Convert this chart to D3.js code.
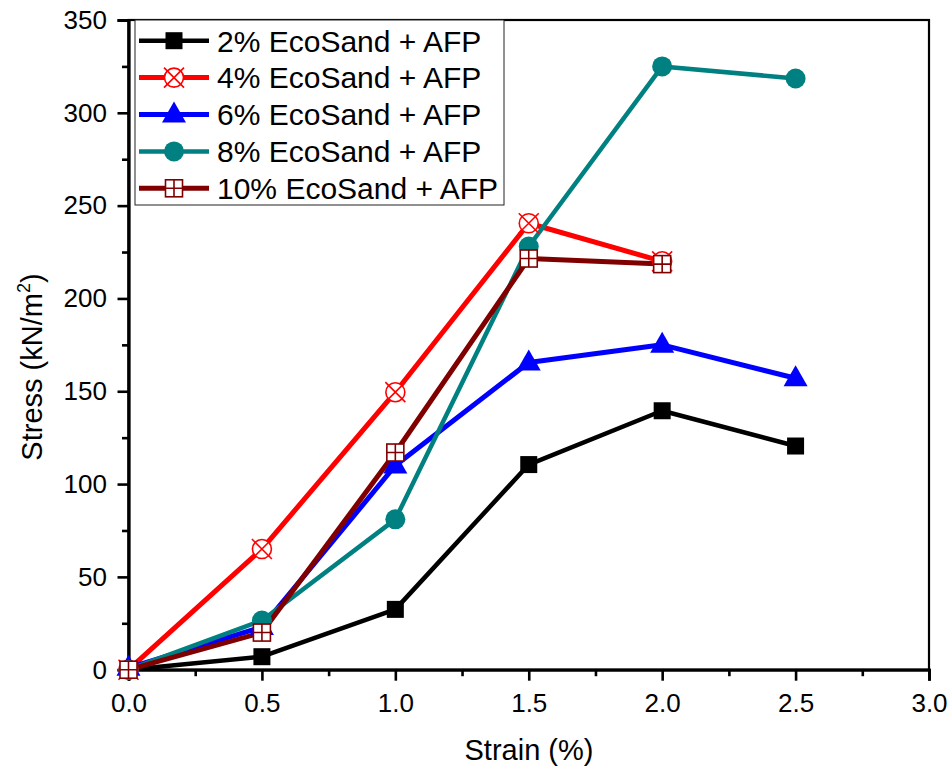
<!DOCTYPE html>
<html>
<head>
<meta charset="utf-8">
<script src="https://cdn.jsdelivr.net/npm/d3@7"></script>
<style>
  html, body { margin: 0; padding: 0; background: #fff; }
  svg { display: block; }
  text { font-family: "Liberation Sans", Arial, sans-serif; fill: #000; }
</style>
</head>
<body>
<svg id="chart" width="950" height="768"></svg>
<script>
// ---- data ----
const strain = [0, 0.5, 1.0, 1.5, 2.0, 2.5];
const seriesNames = ["2% EcoSand + AFP", "4% EcoSand + AFP", "6% EcoSand + AFP", "8% EcoSand + AFP", "10% EcoSand + AFP"];
const stress2 = [0, 7, 32.5, 110.5, 139.5, 120.5];
const stress4 = [0, 65, 149.5, 240.5, 220];
const stress6 = [1, 23, 110, 165.5, 175, 157];
const stress8 = [0, 26.5, 81, 228, 325, 318.5];
const stress10 = [0, 20, 117, 221.5, 218.5];
const xTicks = [0, 0.5, 1.0, 1.5, 2.0, 2.5, 3.0];
const xMinor = [0.25, 0.75, 1.25, 1.75, 2.25, 2.75];
const yTicks = [0, 50, 100, 150, 200, 250, 300, 350];
const yMinor = [25, 75, 125, 175, 225, 275, 325];

const styles = [
  { color: "#000000", marker: "square", width: 4.5 },
  { color: "#FF0000", marker: "circleX", width: 5 },
  { color: "#0000FF", marker: "triangle", width: 5 },
  { color: "#008080", marker: "circle", width: 4.5 },
  { color: "#800000", marker: "squarePlus", width: 5 }
];
const allValues = [stress2, stress4, stress6, stress8, stress10];
const series = seriesNames.map((name, i) => ({
  name, style: styles[i],
  points: allValues[i].map((v, j) => ({ x: strain[j], y: v }))
}));

const svg = d3.select("#chart");
const x = d3.scaleLinear().domain([0, 3]).range([128.5, 929]);
const y = d3.scaleLinear().domain([0, 350]).range([669.7, 20]);

// frame
svg.append("rect")
  .attr("x", x(0)).attr("y", y(350))
  .attr("width", x(3) - x(0)).attr("height", y(0) - y(350))
  .attr("fill", "none").attr("stroke", "#000").attr("stroke-width", 2.2);

// axes
const xAxis = svg.append("g").attr("transform", `translate(0,${y(0)})`)
  .call(d3.axisBottom(x).tickValues(xTicks).tickSize(11).tickPadding(12.5).tickFormat(d3.format(".1f")));
const xAxisMinor = svg.append("g").attr("transform", `translate(0,${y(0)})`)
  .call(d3.axisBottom(x).tickValues(xMinor).tickSize(6.5).tickFormat(""));
const yAxis = svg.append("g").attr("transform", `translate(${x(0)},0)`)
  .call(d3.axisLeft(y).tickValues(yTicks).tickSize(11).tickPadding(10.5).tickFormat(d3.format("d")));
const yAxisMinor = svg.append("g").attr("transform", `translate(${x(0)},0)`)
  .call(d3.axisLeft(y).tickValues(yMinor).tickSize(6.5).tickFormat(""));

[xAxis, xAxisMinor, yAxis, yAxisMinor].forEach(g => {
  g.select(".domain").attr("stroke", "#000").attr("stroke-width", 2.8);
  g.selectAll(".tick line").attr("stroke", "#000").attr("stroke-width", 2.6);
  g.selectAll(".tick text").attr("font-size", 26).attr("font-family", "Liberation Sans, Arial, sans-serif").attr("fill", "#000");
});

// axis titles
svg.append("text").attr("x", 529).attr("y", 760).attr("text-anchor", "middle")
  .attr("font-size", 29).text("Strain (%)");
const yl = svg.append("text").attr("transform", "translate(42,367) rotate(-90)")
  .attr("text-anchor", "middle").attr("font-size", 29);
yl.append("tspan").text("Stress (kN/m");
yl.append("tspan").attr("font-size", 18).attr("dy", -12).text("2");
yl.append("tspan").attr("dy", 12).text(")");

// markers
function drawMarker(g, type, color, cx, cy) {
  const m = g.append("g").attr("transform", `translate(${cx},${cy})`);
  if (type === "square") {
    m.append("rect").attr("x", -8.5).attr("y", -8.5).attr("width", 17).attr("height", 17).attr("fill", color);
  } else if (type === "circle") {
    m.append("circle").attr("r", 10).attr("fill", color);
  } else if (type === "triangle") {
    m.append("path").attr("d", "M0,-13 L12,8 L-12,8 Z").attr("fill", color);
  } else if (type === "circleX") {
    m.append("circle").attr("r", 9.5).attr("fill", "#fff").attr("stroke", color).attr("stroke-width", 1.6);
    m.append("path").attr("d", "M-10,-10 L10,10 M10,-10 L-10,10").attr("stroke", color).attr("stroke-width", 1.6);
  } else if (type === "squarePlus") {
    m.append("rect").attr("x", -8.5).attr("y", -8.5).attr("width", 17).attr("height", 17)
      .attr("fill", "#fff").attr("stroke", color).attr("stroke-width", 1.6);
    m.append("path").attr("d", "M0,-8.5 L0,8.5 M-8.5,0 L8.5,0").attr("stroke", color).attr("stroke-width", 1.6);
  }
}

const line = d3.line().x(d => x(d.x)).y(d => y(d.y));
const plot = svg.append("g");
series.forEach(s => {
  plot.append("path").datum(s.points).attr("d", line)
    .attr("fill", "none").attr("stroke", s.style.color).attr("stroke-width", s.style.width)
    .attr("stroke-linejoin", "round");
});
series.forEach(s => {
  s.points.forEach(p => drawMarker(plot, s.style.marker, s.style.color, x(p.x), y(p.y)));
});

// legend
const lg = svg.append("g");
lg.append("rect").attr("x", 135).attr("y", 20).attr("width", 369).attr("height", 185)
  .attr("fill", "#fff").attr("stroke", "#222").attr("stroke-width", 1);
series.forEach((s, i) => {
  const cy = 40.7 + i * 36.9;
  lg.append("line").attr("x1", 139).attr("x2", 209).attr("y1", cy).attr("y2", cy)
    .attr("stroke", s.style.color).attr("stroke-width", s.style.width);
  drawMarker(lg, s.style.marker, s.style.color, 174, cy);
  lg.append("text").attr("x", 217).attr("y", cy + 10.8).attr("font-size", 30).text(s.name);
});
</script>
</body>
</html>
